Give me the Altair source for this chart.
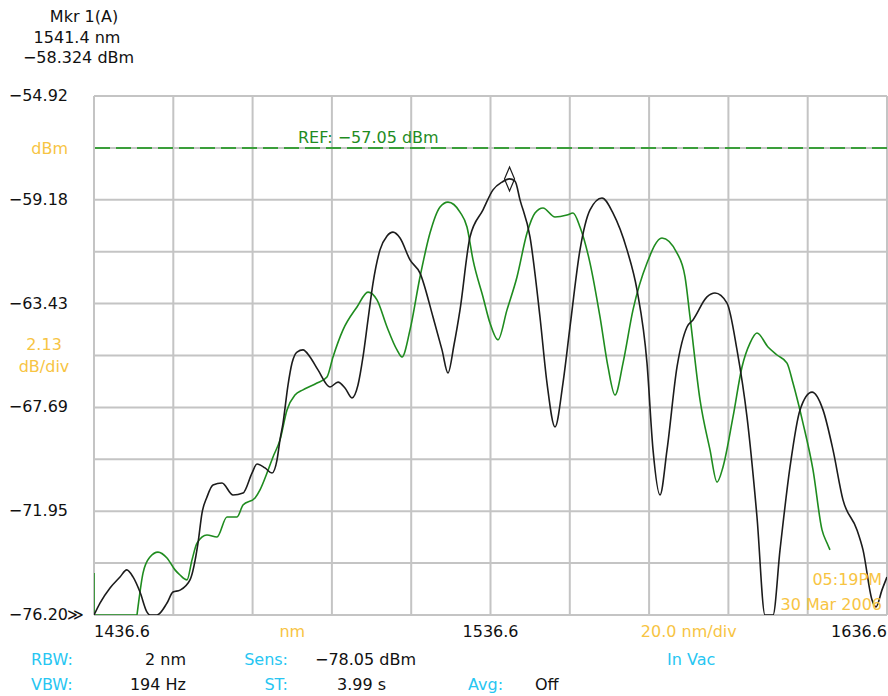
import altair as alt
import pandas as pd

# ---- sweep settings -------------------------------------------------------
start_nm, stop_nm = 1436.6, 1636.6
center_nm = 1536.6
nm_per_div = 20.0
top_dbm, bottom_dbm = -54.92, -76.20
db_per_div = 2.13
ref_dbm = -57.05
y_label_values = [-54.92, -59.18, -63.43, -67.69, -71.95, -76.20]
x_label_values = [start_nm, center_nm, stop_nm]

marker_nm, marker_dbm = 1541.4, -58.324

# ---- trace A (black) ------------------------------------------------------
black_nm = [1436.6, 1438.11, 1440.64, 1443.16, 1444.85, 1446.44, 1448.2, 1449.97,
            1450.72, 1452.49, 1455.01, 1456.52, 1458.29, 1460.81, 1462.83, 1463.84,
            1465.1, 1466.61, 1468.88, 1471.66, 1474.18, 1476.45, 1477.71, 1479.73,
            1481.49, 1482.75, 1483.51, 1484.27, 1485.53, 1486.54, 1487.8, 1489.31,
            1491.08, 1493.09, 1496.12, 1498.14, 1499.9, 1501.67, 1503.18, 1504.44,
            1505.7, 1506.97, 1508.73, 1510.5, 1512.01, 1513.78, 1516.3, 1518.82,
            1522.1, 1524.37, 1525.88, 1527.39, 1528.91, 1531.43, 1534.71, 1537.23,
            1539.5, 1541.39, 1542.78, 1544.04, 1546.56, 1549.08, 1550.85, 1552.87,
            1554.88, 1556.65, 1559.17, 1561.7, 1564.72, 1567.5, 1571.03, 1573.55,
            1576.07, 1577.59, 1579.35, 1581.12, 1583.64, 1586.16, 1587.67, 1591.2,
            1593.22, 1596.25, 1598.77, 1601.29, 1603.81, 1605.83, 1607.85, 1609.62,
            1612.14, 1614.66, 1617.69, 1620.46, 1622.98, 1625.5, 1629.03, 1630.55,
            1632.82, 1633.83, 1635.34, 1636.6]
black_dbm = [-76.2, -75.71, -75.09, -74.64, -74.35, -74.64, -75.26, -76.08,
             -76.2, -76.2, -75.71, -75.26, -75.18, -74.76, -73.25, -72.02,
             -71.36, -70.87, -70.79, -71.28, -71.2, -70.38, -70.01, -70.17,
             -70.38, -69.85, -69.02, -68.33, -66.77, -65.87, -65.42, -65.33,
             -65.62, -66.15, -66.85, -66.65, -66.89, -67.3, -66.77, -65.62,
             -64.1, -62.59, -61.23, -60.66, -60.5, -60.74, -61.64, -62.18,
             -63.98, -65.33, -66.28, -65.13, -63.69, -60.7, -59.59, -58.77,
             -58.45, -58.32, -58.41, -59.18, -60.7, -63.98, -66.69, -68.49,
             -66.69, -64.39, -61.23, -59.59, -59.1, -59.72, -61.23, -62.87,
             -65.87, -69.43, -71.28, -69.43, -66.03, -64.39, -64.1, -63.16,
             -63.0, -63.41, -65.33, -68.08, -72.18, -76.2, -76.2, -73.53,
             -70.13, -67.79, -67.06, -67.79, -69.43, -71.48, -72.71, -73.53,
             -75.58, -75.87, -75.17, -74.64]

# ---- trace B (green) ------------------------------------------------------
green_nm = [1436.6, 1436.6, 1447.44, 1447.7, 1448.96, 1450.72, 1452.74, 1455.01,
            1457.03, 1458.29, 1460.06, 1461.32, 1462.58, 1465.1, 1467.62, 1470.14,
            1472.67, 1474.18, 1477.21, 1478.47, 1480.23, 1481.75, 1483.51, 1485.28,
            1487.29, 1489.31, 1492.84, 1495.36, 1496.88, 1499.4, 1502.93, 1505.71,
            1507.97, 1510.5, 1513.02, 1514.28, 1516.3, 1518.82, 1521.34, 1523.87,
            1525.88, 1528.91, 1530.67, 1532.19, 1534.71, 1536.47, 1538.49, 1540.76,
            1543.28, 1545.81, 1547.82, 1549.84, 1552.87, 1555.89, 1557.41, 1559.17,
            1561.7, 1564.22, 1566.24, 1568.0, 1570.02, 1572.54, 1576.07, 1579.85,
            1583.64, 1585.66, 1586.92, 1589.44, 1591.96, 1593.73, 1595.24, 1597.76,
            1600.03, 1602.05, 1603.81, 1606.59, 1608.86, 1611.38, 1612.89, 1615.41,
            1617.94, 1620.21, 1621.47, 1622.22]
green_dbm = [-74.48, -76.2, -76.2, -75.87, -74.48, -73.82, -73.62, -73.86,
             -74.35, -74.56, -74.76, -73.94, -73.25, -72.92, -73.0, -72.18,
             -72.18, -71.69, -71.4, -71.07, -70.38, -69.72, -69.02, -67.79,
             -67.18, -66.97, -66.69, -66.44, -65.62, -64.51, -63.57, -62.96,
             -63.28, -64.39, -65.33, -65.62, -64.51, -62.34, -60.54, -59.47,
             -59.27, -59.68, -60.29, -61.64, -63.16, -64.23, -64.92, -63.69,
             -62.34, -60.54, -59.72, -59.51, -59.88, -59.8, -59.72, -60.29,
             -61.77, -63.98, -66.03, -67.18, -65.87, -63.69, -61.77, -60.74,
             -61.36, -62.34, -63.98, -67.38, -69.43, -70.75, -70.13, -68.08,
             -66.03, -65.05, -64.64, -65.21, -65.54, -65.87, -66.69, -68.33,
             -70.25, -72.71, -73.25, -73.53]

# ---- styling ----------------------------------------------------------------
FONT = "DejaVu Sans"
FS = 16
GRID = "#c4c4c4"
INK = "#111111"
TRACE_A = "#1c1c1c"
TRACE_B = "#1f8c1f"
REF_GREEN = "#3a9e3a"
ORANGE = "#f7c443"
CYAN = "#27c6f2"

W, H = 793, 519

x_scale = alt.Scale(domain=[start_nm, stop_nm], nice=False, zero=False)
y_scale = alt.Scale(domain=[bottom_dbm, top_dbm], nice=False, zero=False)
X = lambda f: alt.X(f, scale=x_scale, axis=None)
Y = lambda f: alt.Y(f, scale=y_scale, axis=None)

n_div = 10
x_grid = [start_nm + i * nm_per_div for i in range(n_div + 1)]
y_grid = [top_dbm + i * (bottom_dbm - top_dbm) / n_div for i in range(n_div + 1)]


def fmt_minus(v, digits):
    return f"{v:.{digits}f}".replace("-", "\u2212")


# graticule
vgrid = alt.Chart(pd.DataFrame({"nm": x_grid})).mark_rule(
    color=GRID, strokeWidth=2).encode(x=X("nm:Q"))
hgrid = alt.Chart(pd.DataFrame({"dbm": y_grid})).mark_rule(
    color=GRID, strokeWidth=2).encode(y=Y("dbm:Q"))

# reference level
ref_line = alt.Chart(pd.DataFrame({"dbm": [ref_dbm]})).mark_rule(
    color=REF_GREEN, strokeWidth=2, strokeDash=[15, 6]
).encode(y=Y("dbm:Q"))

# traces
df_a = pd.DataFrame({"nm": black_nm, "dbm": black_dbm, "i": range(len(black_nm))})
df_b = pd.DataFrame({"nm": green_nm, "dbm": green_dbm, "i": range(len(green_nm))})
n_floor = 3  # the green trace sits on the bottom line for its first samples

trace_b_floor = alt.Chart(df_b.iloc[:n_floor]).mark_line(
    color=TRACE_B, strokeWidth=1.6, clip=True
).encode(x=X("nm:Q"), y=Y("dbm:Q"), order="i:Q")
trace_b = alt.Chart(df_b.iloc[n_floor - 1:]).mark_line(
    color=TRACE_B, strokeWidth=1.6, clip=True, interpolate="monotone"
).encode(x=X("nm:Q"), y=Y("dbm:Q"), order="i:Q")
trace_a = alt.Chart(df_a).mark_line(
    color=TRACE_A, strokeWidth=1.6, clip=True, interpolate="monotone"
).encode(x=X("nm:Q"), y=Y("dbm:Q"), order="i:Q")

# marker 1 symbol on trace A
marker = alt.Chart(pd.DataFrame({"nm": [marker_nm], "dbm": [marker_dbm]})).mark_point(
    shape="M0,-1L0.42,0L0,1L-0.42,0Z", filled=False, size=576,
    color=TRACE_A, strokeWidth=1.2, opacity=1
).encode(x=X("nm:Q"), y=Y("dbm:Q"))

# amplitude scale labels
y_labels = alt.Chart(pd.DataFrame({
    "dbm": y_label_values,
    "t": [fmt_minus(v, 2) for v in y_label_values],
})).mark_text(font=FONT, fontSize=FS, color=INK, align="right", baseline="middle").encode(
    y=Y("dbm:Q"), x=alt.value(-26), text="t:N")

# wavelength scale labels: start, center, stop
x_lab_df = pd.DataFrame({"nm": x_label_values, "t": [f"{v:.1f}" for v in x_label_values]})


def x_label_layer(row, align):
    return alt.Chart(x_lab_df.iloc[[row]]).mark_text(
        font=FONT, fontSize=FS, color=INK, align=align, baseline="alphabetic"
    ).encode(x=X("nm:Q"), y=alt.value(H + 22), text="t:N")


x_labels = [x_label_layer(0, "left"), x_label_layer(1, "center"), x_label_layer(2, "right")]


def label(text, x, y, color=INK, align="left", baseline="alphabetic"):
    return alt.Chart(pd.DataFrame({"t": [text]})).mark_text(
        font=FONT, fontSize=FS, color=color, align=align, baseline=baseline
    ).encode(text="t:N", x=alt.value(x), y=alt.value(y))


def label_at_nm(text, nm, y, color):
    return alt.Chart(pd.DataFrame({"t": [text], "nm": [nm]})).mark_text(
        font=FONT, fontSize=FS, color=color, align="center", baseline="alphabetic"
    ).encode(text="t:N", x=X("nm:Q"), y=alt.value(y))


texts = [
    # marker readout
    label("Mkr 1(A)", -10, -74.5, align="center"),
    label(f"{marker_nm:.1f} nm", -17, -53, align="center"),
    label(f"{fmt_minus(marker_dbm, 3)} dBm", -15.5, -33, align="center"),
    # reference annotation
    label(f"REF: {fmt_minus(ref_dbm, 2)} dBm", 204, 47, color=TRACE_B),
    # left side units
    label("dBm", -26, 53, color=ORANGE, align="right", baseline="middle"),
    label(f"{db_per_div:.2f}", -50, 249, color=ORANGE, align="center", baseline="middle"),
    label("dB/div", -50, 271, color=ORANGE, align="center", baseline="middle"),
    label("\u226b", -27, H, align="left", baseline="middle"),
    # bottom scale
    label_at_nm("nm", start_nm + 2.5 * nm_per_div, H + 22, ORANGE),
    label_at_nm(f"{nm_per_div:.1f} nm/div", stop_nm - 2.5 * nm_per_div, H + 22, ORANGE),
    # time stamp
    label("05:19PM", 788, 489, color=ORANGE, align="right"),
    label("30 Mar 2006", 788, 514, color=ORANGE, align="right"),
    # settings rows
    label("RBW:", -63, 569, color=CYAN),
    label("VBW:", -63, 594, color=CYAN),
    label("2 nm", 92, 569, align="right"),
    label("194  Hz", 92, 594, align="right"),
    label("Sens:", 194, 569, color=CYAN, align="right"),
    label("ST:", 194, 594, color=CYAN, align="right"),
    label("\u221278.05 dBm", 221, 569),
    label("3.99 s", 243, 594),
    label("In Vac", 573, 569, color=CYAN),
    label("Avg:", 374, 594, color=CYAN),
    label("Off", 441, 594),
]

chart = alt.layer(
    vgrid, hgrid, ref_line, trace_b_floor, trace_b, trace_a, marker,
    y_labels, *x_labels, *texts
).properties(
    width=W, height=H,
    autosize=alt.AutoSizeParams(type="none"),
    padding={"left": 94, "top": 96, "right": 1, "bottom": 81},
    background="white",
).configure_view(stroke=None)

chart.save("out.html", embed_options={"renderer": "svg", "actions": False})
